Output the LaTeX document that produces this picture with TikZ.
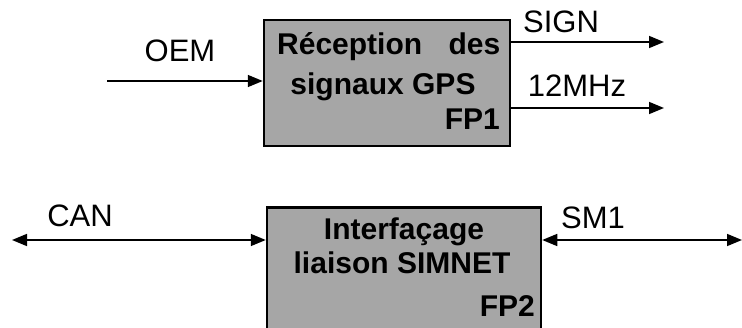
\documentclass[tikz,border=0pt]{standalone}
\usepackage{fontspec}
\setmainfont{Liberation Sans}
\usetikzlibrary{arrows.meta}
\begin{document}
\begin{tikzpicture}[x=1pt,y=-1pt,
  box/.style={draw=black, line width=2.5pt, fill=black!35, inner sep=0pt},
  boxtxt/.style={font=\fontsize{30}{30}\selectfont\bfseries, inner sep=0pt},
  lbl/.style={font=\fontsize{31}{31}\selectfont, inner sep=0pt},
  arr/.style={line width=1.6pt, -{Triangle[length=15pt,width=12pt]}},
  dbl/.style={line width=1.6pt, {Triangle[length=15pt,width=12pt]}-{Triangle[length=15pt,width=12pt]}}]
\useasboundingbox (0,0) rectangle (742,328);
\clip (0,0) rectangle (742,328);
% boxes
\node[box, minimum width=246pt, minimum height=126pt] (fp1) at (387,83) {};
\node[box, minimum width=274pt, minimum height=133pt] (fp2) at (404,274) {};
% box texts
\node[boxtxt, anchor=base west] (t1) at (277,55) {\makebox[223pt][s]{Réception\hfill des}};
\node[boxtxt, anchor=base] (t2) at (383,95) {signaux GPS};
\node[boxtxt, anchor=base east] (t3) at (500,130) {FP1};
\node[boxtxt, anchor=base] (u1) at (404,240) {Interfaçage};
\node[boxtxt, anchor=base] (u2) at (402,274) {liaison SIMNET};
\node[boxtxt, anchor=base east] (u3) at (535,317) {FP2};
% connectors
\coordinate (oem) at (107,81);
\coordinate (sign) at (664,42);
\coordinate (mhz) at (664,108);
\coordinate (can) at (12,240);
\coordinate (sm) at (742,240);
\draw[arr] (oem) -- (fp1.west |- oem);
\draw[arr] (fp1.east |- sign) -- (sign);
\draw[arr] (fp1.east |- mhz) -- (mhz);
\draw[dbl] (can) -- (fp2.west |- can);
\draw[dbl] (fp2.east |- sm) -- (sm);
% labels
\node[lbl, anchor=base] (l1) at (180,62) {OEM};
\node[lbl, anchor=base] (l2) at (561,33) {SIGN};
\node[lbl, anchor=base] (l3) at (577,97) {12MHz};
\node[lbl, anchor=base] (l4) at (80,227) {CAN};
\node[lbl, anchor=base] (l5) at (593,229) {SM1};
\end{tikzpicture}
\end{document}
